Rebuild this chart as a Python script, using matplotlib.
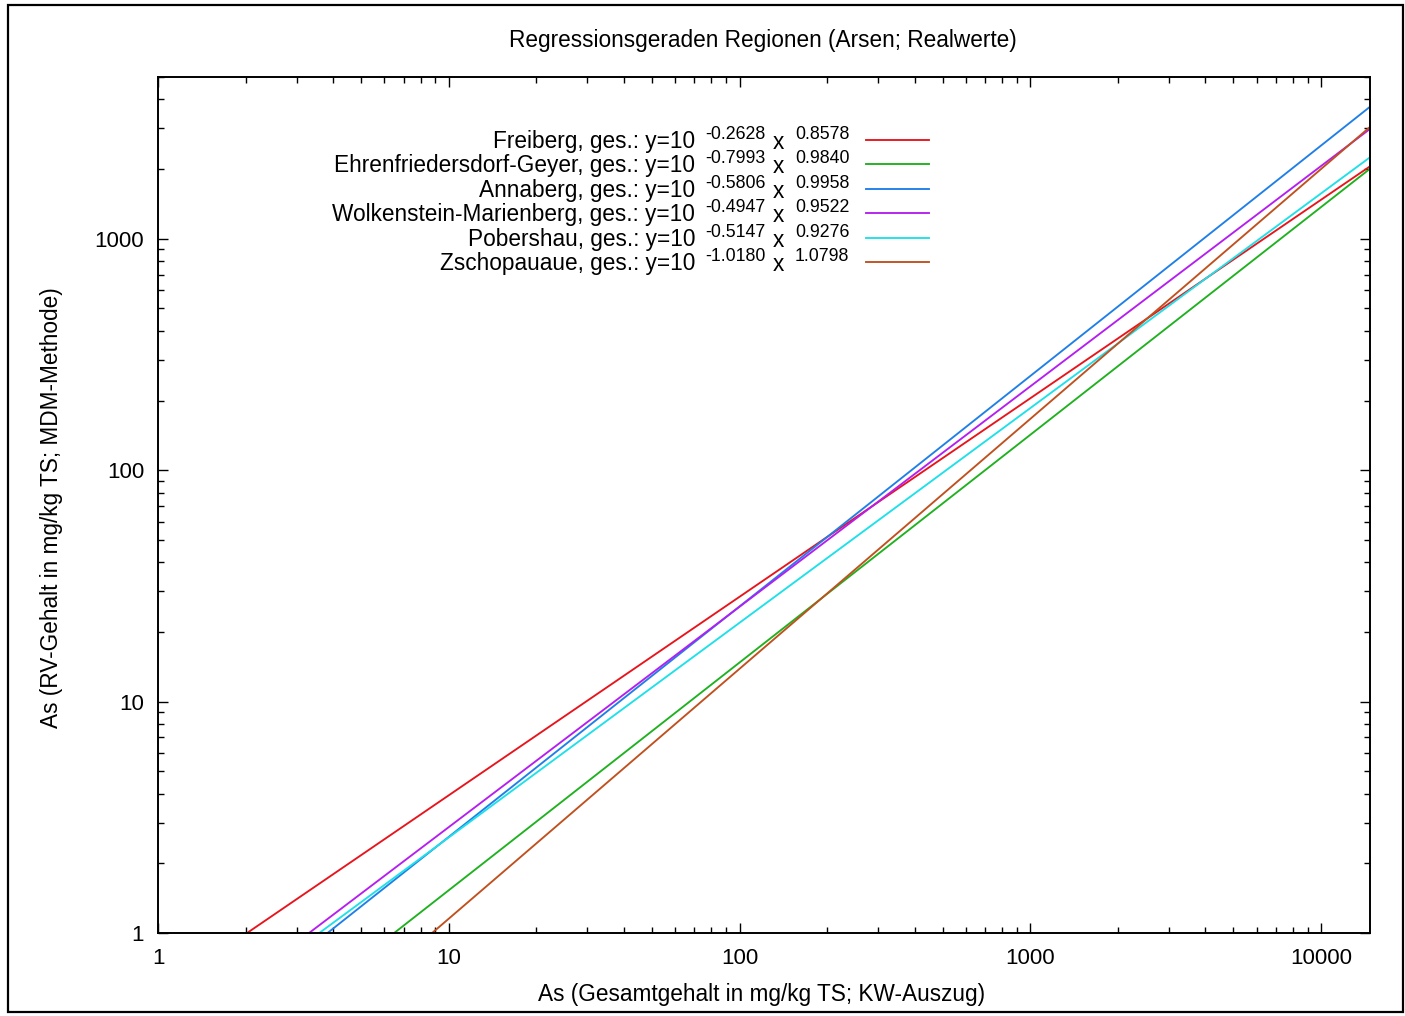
import numpy as np
import matplotlib.pyplot as plt
from matplotlib.patches import Rectangle
from matplotlib.ticker import LogLocator, FixedLocator, NullFormatter

plt.rcParams['font.family'] = ['Liberation Sans', 'DejaVu Sans']

# regression coefficients: y = 10^a * x^b
regions = ['Freiberg', 'Ehrenfriedersdorf-Geyer', 'Annaberg',
           'Wolkenstein-Marienberg', 'Pobershau', 'Zschopauaue']
intercepts = ['-0.2628', '-0.7993', '-0.5806', '-0.4947', '-0.5147', '-1.0180']
slopes = ['0.8578', '0.9840', '0.9958', '0.9522', '0.9276', '1.0798']
colors = ['#e8141c', '#1fb11f', '#1f7fe8', '#b41ef0', '#1ee0e8', '#c0501e']

xmin, xmax = 1, 14740
ymin, ymax = 1, 5000

W, H = 1405, 1016
fig = plt.figure(figsize=(W / 100, H / 100), dpi=100)

def P(x, y):
    # pixel position -> figure fraction
    return x / W, 1 - y / H

# outer frame
fig.patches.append(Rectangle(P(8, 1012), 1395 / W, 1007 / H, transform=fig.transFigure,
                             fill=False, edgecolor='black', linewidth=1.6))

l, b = P(158, 933)
ax = fig.add_axes([l, b, (1370 - 158) / W, (933 - 77) / H])
ax.set_xscale('log')
ax.set_yscale('log')
ax.set_xlim(xmin, xmax)
ax.set_ylim(ymin, ymax)

xs = np.array([xmin, xmax], dtype=float)
for name, a, s, c in zip(regions, intercepts, slopes, colors):
    ys = 10 ** float(a) * xs ** float(s)
    ax.plot(xs, ys, color=c, lw=1.35)

for sp in ax.spines.values():
    sp.set_linewidth(1.4)

ax.xaxis.set_major_locator(FixedLocator([1, 10, 100, 1000, 10000]))
ax.yaxis.set_major_locator(FixedLocator([1, 10, 100, 1000]))
ax.xaxis.set_minor_locator(LogLocator(base=10, subs=np.arange(2, 10), numticks=20))
ax.yaxis.set_minor_locator(LogLocator(base=10, subs=np.arange(2, 10), numticks=20))
ax.xaxis.set_minor_formatter(NullFormatter())
ax.yaxis.set_minor_formatter(NullFormatter())
ax.set_xticklabels(['1', '10', '100', '1000', '10000'])
ax.set_yticklabels(['1', '10', '100', '1000'])
ax.tick_params(which='both', direction='in', top=True, right=True, width=1.0, labelsize=16)
ax.tick_params(which='major', length=7.5)
ax.tick_params(which='minor', length=4)
ax.tick_params(axis='x', pad=11)
ax.tick_params(axis='y', pad=10)

fig.text(*P(763, 41), 'Regressionsgeraden Regionen (Arsen; Realwerte)',
         ha='center', va='center', fontsize=16.3)
fig.text(*P(762, 994), 'As (Gesamtgehalt in mg/kg TS; KW-Auszug)',
         ha='center', va='center', fontsize=16.3)
fig.text(*P(52, 508), 'As (RV-Gehalt in mg/kg TS; MDM-Methode)',
         ha='center', va='center', rotation=90, fontsize=16.3)

# legend in gnuplot style
for i, (name, a, s, c) in enumerate(zip(regions, intercepts, slopes, colors)):
    yb = 148 + i * 24.4
    fig.text(*P(695, yb), name + ', ges.: y=10', ha='right', va='baseline', fontsize=16.3)
    fig.text(*P(705, yb - 9), a, ha='left', va='baseline', fontsize=12.8)
    fig.text(*P(773, yb + 1), 'x', ha='left', va='baseline', fontsize=16.3)
    fig.text(*P(795, yb - 9), s, ha='left', va='baseline', fontsize=12.8)
    x0, y0 = P(866, yb - 8)
    x1, _ = P(929, yb - 8)
    fig.add_artist(plt.Line2D([x0, x1], [y0, y0], transform=fig.transFigure, color=c, lw=1.35))

fig.savefig('out.png', dpi=100)
